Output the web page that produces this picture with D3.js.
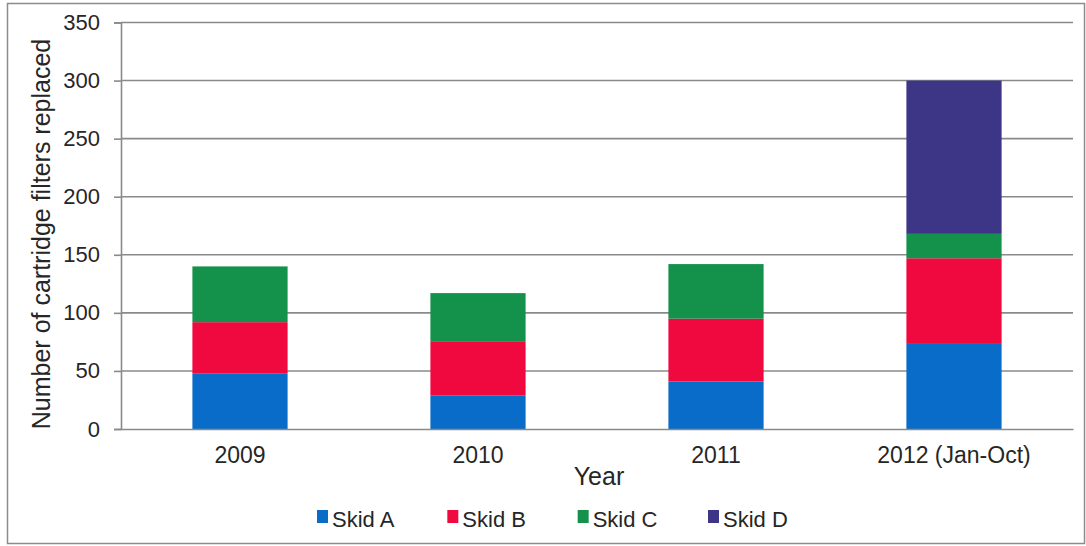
<!DOCTYPE html>
<html>
<head>
<meta charset="utf-8">
<script src="https://cdn.jsdelivr.net/npm/d3@7"></script>
<style>
  body { margin: 0; background: #fff; }
  svg { display: block; }
  text { font-family: "Liberation Sans", Arial, sans-serif; fill: #262626; }
</style>
</head>
<body>
<div id="chart"></div>
<script>
// Data
const years = ["2009", "2010", "2011", "2012 (Jan-Oct)"];
const skids = ["Skid A", "Skid B", "Skid C", "Skid D"];
const skidA = [48, 29, 41, 74];
const skidB = [44, 46, 54, 73];
const skidC = [48, 42, 47, 21];
const skidD = [0, 0, 0, 132];
const yTicks = [0, 50, 100, 150, 200, 250, 300, 350];
const colors = ["#0a6cc9", "#f0093f", "#14914b", "#3d3686"];

const width = 1086, height = 546;
const margin = { top: 22.5, right: 13, bottom: 117, left: 121 };
const innerWidth = width - margin.left - margin.right;
const innerHeight = height - margin.top - margin.bottom;

const svg = d3.select("#chart")
    .append("svg")
    .attr("width", width)
    .attr("height", height);

// outer frame
svg.append("rect")
    .attr("x", 7.5).attr("y", 3.5)
    .attr("width", 1077).attr("height", 540)
    .attr("fill", "none")
    .attr("stroke", "#8c8c8c")
    .attr("stroke-width", 1.5);

const g = svg.append("g")
    .attr("transform", `translate(${margin.left},${margin.top})`);

// Build the stacked table
const table = years.map((y, i) => ({
    year: y,
    "Skid A": skidA[i],
    "Skid B": skidB[i],
    "Skid C": skidC[i],
    "Skid D": skidD[i]
}));
const stacked = d3.stack().keys(skids)(table);

const xScale = d3.scaleBand()
    .domain(years)
    .range([0, innerWidth])
    .paddingInner(0.6)
    .paddingOuter(0.3);

const yScale = d3.scaleLinear()
    .domain([0, 350])
    .range([innerHeight, 0]);

// horizontal grid
g.selectAll("line.grid")
    .data(yTicks.filter(d => d > 0))
    .join("line")
    .attr("class", "grid")
    .attr("x1", 0)
    .attr("x2", innerWidth)
    .attr("y1", d => yScale(d))
    .attr("y2", d => yScale(d))
    .attr("stroke", "#8a8a8a")
    .attr("stroke-width", 1.6);

// bars
g.selectAll("g.layer")
    .data(stacked)
    .join("g")
    .attr("class", "layer")
    .attr("fill", (d, i) => colors[i])
    .selectAll("rect")
    .data(d => d.filter(s => s[1] - s[0] > 0))
    .join("rect")
    .attr("x", d => xScale(d.data.year))
    .attr("width", xScale.bandwidth())
    .attr("y", d => yScale(d[1]))
    .attr("height", d => yScale(d[0]) - yScale(d[1]));

// axes
const yAxis = d3.axisLeft(yScale).tickValues(yTicks).tickSize(7).tickPadding(14);
const yG = g.append("g").call(yAxis)
    .attr("font-size", 22)
    .attr("font-family", "Liberation Sans, Arial, sans-serif");
yG.select(".domain").attr("stroke", "#8a8a8a").attr("stroke-width", 1.6);
yG.selectAll(".tick line").attr("stroke", "#8a8a8a").attr("stroke-width", 1.6);

const xAxis = d3.axisBottom(xScale).tickSize(0).tickPadding(18);
const xG = g.append("g")
    .attr("transform", `translate(0,${innerHeight})`)
    .call(xAxis)
    .attr("font-size", 23)
    .attr("font-family", "Liberation Sans, Arial, sans-serif");
xG.select(".domain").attr("stroke", "#8a8a8a").attr("stroke-width", 1.6);

// axis labels
g.append("text")
    .attr("x", innerWidth / 2 + 2)
    .attr("y", innerHeight + 56)
    .attr("text-anchor", "middle")
    .attr("font-size", 25)
    .text("Year");

g.append("text")
    .attr("transform", "rotate(-90)")
    .attr("x", -211.5)
    .attr("y", -71)
    .attr("text-anchor", "middle")
    .attr("font-size", 25)
    .text("Number of cartridge filters replaced");

// legend
const legendX = d3.scalePoint().domain(skids).range([317, 708]);
const legend = svg.selectAll("g.legend")
    .data(skids)
    .join("g")
    .attr("class", "legend")
    .attr("transform", d => `translate(${legendX(d)},510)`);

legend.append("rect")
    .attr("width", 11)
    .attr("height", 13)
    .attr("fill", (d, i) => colors[i]);

legend.append("text")
    .attr("x", 15)
    .attr("y", 17)
    .attr("font-size", 22)
    .text(d => d);
</script>
</body>
</html>
